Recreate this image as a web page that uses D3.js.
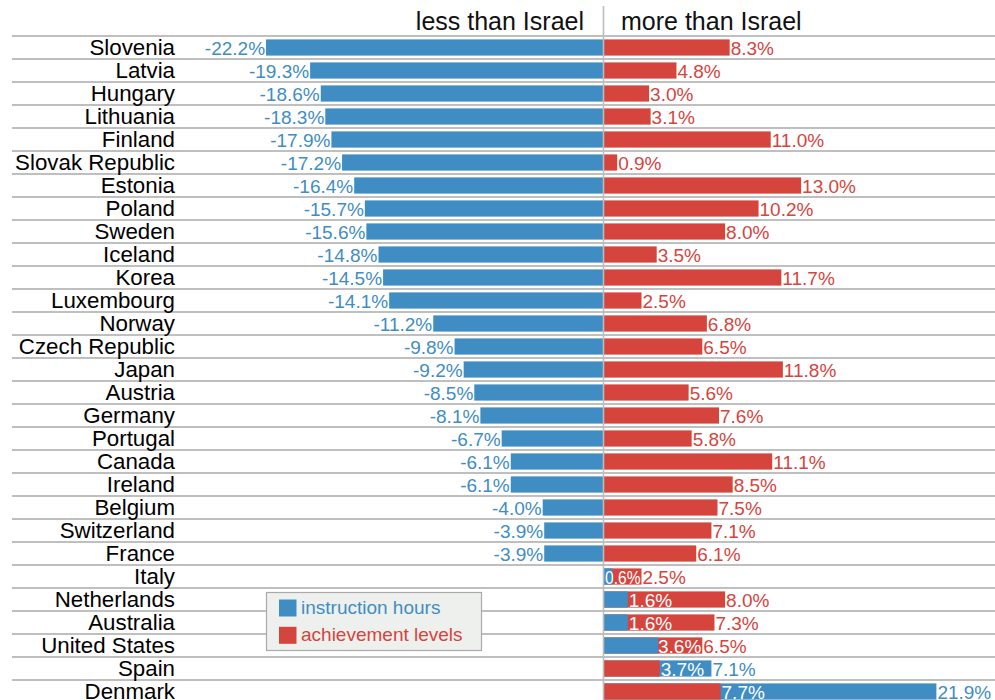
<!DOCTYPE html>
<html><head><meta charset="utf-8">
<script src="https://cdn.jsdelivr.net/npm/d3@7"></script>
<style>body{margin:0;background:#fff}svg{display:block;font-family:"Liberation Sans",Arial,Helvetica,sans-serif}</style>
</head><body><svg id="c" width="995" height="700"></svg>
<script>
const countries = ["Slovenia","Latvia","Hungary","Lithuania","Finland","Slovak Republic","Estonia","Poland","Sweden","Iceland","Korea","Luxembourg","Norway","Czech Republic","Japan","Austria","Germany","Portugal","Canada","Ireland","Belgium","Switzerland","France","Italy","Netherlands","Australia","United States","Spain","Denmark"];
const instructionHours = [-22.2,-19.3,-18.6,-18.3,-17.9,-17.2,-16.4,-15.7,-15.6,-14.8,-14.5,-14.1,-11.2,-9.8,-9.2,-8.5,-8.1,-6.7,-6.1,-6.1,-4.0,-3.9,-3.9,0.6,1.6,1.6,3.6,7.1,21.9];
const achievementLevels = [8.3,4.8,3.0,3.1,11.0,0.9,13.0,10.2,8.0,3.5,11.7,2.5,6.8,6.5,11.8,5.6,7.6,5.8,11.1,8.5,7.5,7.1,6.1,2.5,8.0,7.3,6.5,3.7,7.7];
const headers = ["less than Israel","more than Israel"];
const legendLabels = ["instruction hours","achievement levels"];

const BLUE = "#3f8dc3", RED = "#d6443e";
const svg = d3.select("#c");
const x = d3.scaleLinear().domain([0, 21.9]).range([603.5, 936.4]);
const y = d3.scaleBand().domain(countries).range([36, 36 + 23*countries.length]);
const fmt = v => v.toFixed(1) + "%";
const data = countries.map((c,i)=>({c, ins: instructionHours[i], ach: achievementLevels[i]}));

// grid lines
svg.append("g").selectAll("line").data(countries).join("line")
  .attr("x1", 12).attr("x2", 995)
  .attr("y1", d => y(d)).attr("y2", d => y(d))
  .attr("stroke", "#aaa").attr("stroke-width", 1.6);

// headers
svg.append("text").attr("x", 584).attr("y", 29.5).attr("text-anchor","end")
  .attr("font-size", 25).attr("fill","#111").text(headers[0]);
svg.append("text").attr("x", 621).attr("y", 29.5).attr("text-anchor","start")
  .attr("font-size", 25).attr("fill","#111").text(headers[1]);

// country labels
svg.append("g").selectAll("text").data(countries).join("text")
  .attr("x", 175).attr("y", d => y(d) + 19.3).attr("text-anchor","end")
  .attr("font-size", 22.3).attr("fill","#000").text(d => d);

const BY = 3.4, BH = 16.2, LY = 18.5, FS = 19;
const g = svg.append("g");
data.forEach(d => {
  const top = y(d.c);
  if (d.ins < 0) {
    g.append("rect").attr("x", x(d.ins)).attr("y", top+BY).attr("width", x(0)-x(d.ins)).attr("height", BH).attr("fill", BLUE);
    g.append("rect").attr("x", x(0)).attr("y", top+BY).attr("width", x(d.ach)-x(0)).attr("height", BH).attr("fill", RED);
    g.append("text").attr("x", x(d.ins)-1).attr("y", top+LY).attr("text-anchor","end").attr("font-size",FS).attr("fill",BLUE).text(fmt(d.ins));
    g.append("text").attr("x", x(d.ach)+1).attr("y", top+LY).attr("font-size",FS).attr("fill",RED).text(fmt(d.ach));
  } else {
    const bigIsIns = d.ins >= d.ach;
    const big = bigIsIns ? d.ins : d.ach, small = bigIsIns ? d.ach : d.ins;
    const bigC = bigIsIns ? BLUE : RED, smallC = bigIsIns ? RED : BLUE;
    g.append("rect").attr("x", x(0)).attr("y", top+BY).attr("width", x(big)-x(0)).attr("height", BH).attr("fill", bigC);
    g.append("rect").attr("x", x(0)).attr("y", top+BY).attr("width", x(small)-x(0)).attr("height", BH).attr("fill", smallC);
    const t = g.append("text").attr("y", top+LY).attr("font-size",FS).attr("fill","#fff").text(fmt(small));
    const w = t.node().getComputedTextLength();
    let sx = x(small)+1;
    if (sx + w > x(big) - 1) {
      sx = Math.max(x(0)+1.5, x(big) - 1 - w);
      const avail = x(big) - 1 - sx;
      if (avail < w) t.attr("textLength", avail).attr("lengthAdjust","spacingAndGlyphs");
    }
    t.attr("x", sx);
    g.append("text").attr("x", x(big)+1).attr("y", top+LY).attr("font-size",FS).attr("fill",bigC).text(fmt(big));
  }
});

// center line
svg.append("line").attr("x1", 603.5).attr("x2", 603.5).attr("y1", 6).attr("y2", 700)
  .attr("stroke", "#bdbdbd").attr("stroke-width", 1.6);

// legend
const lg = svg.append("g");
lg.append("rect").attr("x", 266.5).attr("y", 592.5).attr("width", 215).attr("height", 58)
  .attr("fill", "#eef0ee").attr("stroke", "#aaa").attr("stroke-width", 1.2);
[BLUE, RED].forEach((c,i) => {
  lg.append("rect").attr("x", 279).attr("y", 599.5 + i*27.3).attr("width", 17.5).attr("height", 17).attr("fill", c);
  lg.append("text").attr("x", 301).attr("y", 613.5 + i*27.3).attr("font-size", 19).attr("fill", c).text(legendLabels[i]);
});
</script></body></html>
